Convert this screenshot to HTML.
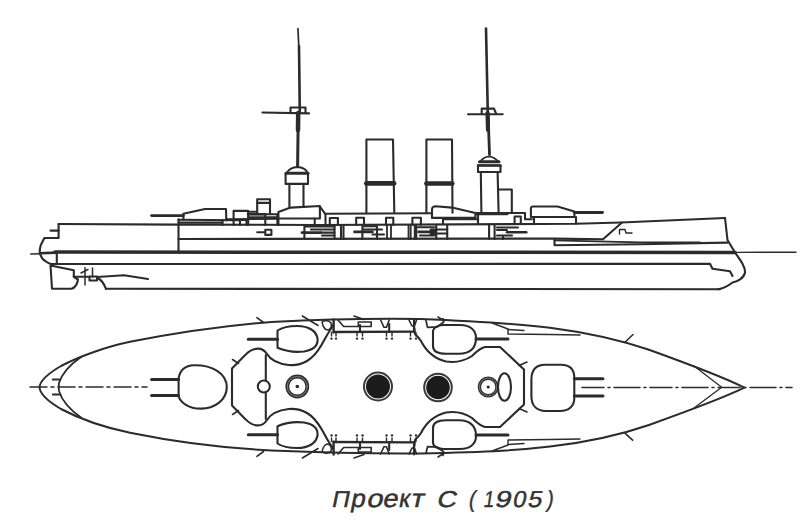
<!DOCTYPE html>
<html><head><meta charset="utf-8">
<style>
html,body{margin:0;padding:0;background:#fff;width:800px;height:524px;overflow:hidden}
svg{position:absolute;left:0;top:0}
.g{position:absolute;top:488.2px;-webkit-text-stroke:0.45px #333;font-family:"Liberation Sans",sans-serif;font-size:23px;line-height:23px;color:#333;white-space:nowrap;transform-origin:0 19px}
</style></head><body>
<svg width="800" height="524" viewBox="0 0 800 524">
<g fill="none" stroke="#2b2b2b" stroke-width="2.1" stroke-linejoin="round" stroke-linecap="round">
<!-- ============ SIDE VIEW ============ -->
<!-- aft mast -->
<path d="M297.9,28.5 L298.8,46" stroke-width="1.7"/>
<path d="M299,46 L299.8,113" stroke-width="2.6"/>
<path d="M262.4,112.5 L309,113.4"/>
<path d="M290.5,113 L290.5,107.5 L305.5,107.5 L305.5,113"/>
<path d="M298.3,113 L297.6,166" stroke-width="3"/>
<path d="M298.2,113 L298,130" stroke-width="4.5"/>
<path d="M287,172.5 Q290,167.5 297.4,167 Q305,167.5 307.5,172.5" stroke-width="1.8"/>
<path d="M286,173.3 L308,173.3" stroke-width="3"/>
<path d="M285.6,173.5 L285.6,183.9 L308,183.9 L308,173.5"/>
<path d="M289.4,184 L289.4,208 M303.5,184 L303.5,207"/>
<!-- fore mast -->
<path d="M486,28.5 L487.8,113" stroke-width="2.6"/>
<path d="M468,114.2 L502.7,114.2"/>
<path d="M481.7,113.5 L481.7,108.6 L494,108.6 L496,113.5"/>
<path d="M488,113 L489.5,154.5" stroke-width="2.8"/>
<path d="M487.5,113 L488,130" stroke-width="4.2"/>
<path d="M480,162 Q483,157 489,156.3 Q495,157 498.5,162" stroke-width="1.8"/>
<path d="M479.5,161.8 L499,161.8" stroke-width="3"/>
<path d="M478,165.3 L478,172 L500.5,172 L500.5,165.3 Z"/>
<path d="M478,165.6 L500.5,165.6" stroke-width="2.4"/>
<path d="M480.8,172 L481.4,213 M497.6,172 L498.6,213"/>
<path d="M498.8,189.5 L511.8,189.5 L511.8,213"/>
<!-- funnels -->
<path d="M366.4,212.5 L366.4,139.5 L393,139.5 L394.3,212.5"/>
<path d="M366.4,183.4 L394,183.4" stroke-width="4.8"/>
<path d="M426.4,212.8 L426.4,139.5 L452,139.5 L452.5,212.8"/>
<path d="M426.4,183.5 L452.3,183.5" stroke-width="4.6"/>

<!-- hull main lines -->
<path d="M58.6,224 L179,224.6 L320,225 L576,223.8 L621,222.5 L725,218"/>
<path d="M178.5,219.4 L178.5,251"/>
<path d="M226.3,219.3 L278.4,218.8"/>
<path d="M319.9,206.5 L325,213.7 L432,213.2"/>
<path d="M325.5,213.7 L325.5,225"/>
<path d="M178.5,239 L554.5,238.6 L603,239.3 L622,222.5"/>
<path d="M55,252.1 L735,252.4" stroke-width="3.5"/>
<path d="M30.7,254 L40,253.8 M735,252.4 L796,252.2" stroke-width="1.4"/>
<path d="M40,253.3 L56,252.6" stroke-width="2.6"/>
<path d="M52,264 L710,263.8 L712.5,268.8 L730,271.2 L732.5,276"/>
<path d="M106,288.8 L720,289.2"/>
<path d="M554.5,239 L554.5,245.2 L640,244.3 L727.5,242.6"/>
<path d="M554.5,240.3 L640,242.3 L700,242.4" stroke-width="1.8"/>
<!-- bow stem -->
<path d="M725,218 L727.5,240 L735,252.5 C741,261 745.5,267 745,272.5 C744,278 738,281.5 732.5,282.5 C728,286 724,288.5 718,289.2"/>
<!-- stern -->
<path d="M58.6,224 L58.6,238 L44.4,238 L40.8,245 C40,248 39.6,251 39.8,252.6 C40.5,256 42,259 45.2,261 C47.5,262.8 50,264 52.8,264.8"/>
<path d="M50.5,230.6 L58.6,230.6"/>
<path d="M56.8,254 L56.8,264"/>
<!-- rudder & propeller -->
<path d="M50.5,265.5 L52,288.8 L71.5,288.8 Q77,287 78,279.5 L73.8,276.8 L73.8,270.2 Z"/>
<path d="M73.8,276.8 L89.5,276.8 M97,277 L124,275.3 L148,279"/>
<path d="M89.5,276.5 L89.5,280.5 L97,280.5 L97,276.5 Z"/>
<path d="M97,278.3 C101,279 103,282 106,288.8"/>
<path d="M85,267.8 L85,285 M92.5,268 L92.5,277" stroke-width="1.5"/>
<path d="M81,273 L88,269.5" stroke-width="1.5"/>
<!-- aft turret -->
<path d="M151.6,215.6 L183.4,215.6" stroke-width="2.8"/>
<path d="M183.4,219.6 L183.4,213.8 L205,209 L226,209 L226.3,220.5"/>
<path d="M178.5,219.8 L240,220.3"/>
<path d="M178.7,222.6 L222.6,222.4 M222.6,220 L222.6,225"/>
<!-- aft superstructure -->
<path d="M233.6,225 L233.6,210.9 L248.2,210.9 L248.2,225"/>
<path d="M240,225 L240,220 L246.5,220 L246.5,225"/>
<path d="M248.2,211.7 L257.2,211.7 M248.2,214.3 L265.3,214.3" />
<path d="M248.2,214.3 L265.3,214.3" stroke-width="2.6"/>
<path d="M248.2,217.3 L277.4,217.3" stroke-width="2.2"/>
<path d="M265.3,214.3 L277.4,214.3 L277.4,225 M265.3,214.3 L265.3,225"/>
<path d="M257.2,213.9 L257.2,199.3 L270,199.3 L270,213.9"/>
<path d="M257.2,202.8 L270,202.8" stroke-width="2.2"/>
<path d="M257.2,232.3 L265.3,232.3 M265.3,229.8 L271.4,229.8 L271.4,234.9 L265.3,234.9 Z"/>
<!-- Q turret (aft midship) -->
<path d="M278.4,218.5 L278.4,212 L290.6,207.6 L319.9,206 L319.9,218.5 Z"/>
<path d="M278.4,218.5 L278.4,225 M314.7,218.5 L314.7,225"/>
<!-- small ports -->
<path d="M329.8,225 L329.8,218 L337.9,218 L337.9,225 M356.2,225 L356.2,217.8 L364,217.8 L364,225 M386,225 L386,217.8 L393.3,217.8 L393.3,225 M412.4,225 L412.4,217.8 L420.9,217.8 L420.9,225"/>
<!-- casemates -->
<path d="M301.9,232.6 L320.8,232.6" stroke-width="2.6"/>
<path d="M304.4,238.6 L304.4,226.5 L334.5,226.5 M311,229.5 L334.5,229.5 M322,235.5 L334.5,235.5 M320.8,232.6 L334.5,232.6"/>
<path d="M334.5,225 L334.5,239 M341,225 L341,239 M343.5,226 L343.5,239" stroke-width="2.1"/>
<path d="M354.5,231.9 L372.5,231.9" stroke-width="2.6"/>
<path d="M362.4,239 L362.4,226.2 L377,226.2 M362.4,229.5 L382,229.5 M372.5,234.5 L384,234.5 M377,226.2 L377,239"/>
<path d="M387,225 L387,239 M391,225 L391,239 M408.5,225 L408.5,239 M410.7,226 L410.7,239 M414.7,225 L414.7,239 M416.4,226 L416.4,239" stroke-width="1.8"/>
<path d="M418.6,231.9 L435.5,231.9" stroke-width="2.8"/>
<path d="M418,227.2 L434,227.2 M420,235.5 L434,235.5"/>
<path d="M436.2,225 L436.2,239 M447.2,225 L447.2,239"/>
<path d="M431,230 L436,230 M431,234 L436,234" stroke-width="3"/>
<path d="M436.2,229.5 L447.2,229.5 M436.2,233.5 L447.2,233.5"/>
<path d="M489.1,225 L489.1,239 M494.6,225 L494.6,239"/>
<path d="M507,232.3 L526.3,232.3" stroke-width="2.6"/>
<path d="M497,227.5 L518,227.5 M497,230 L507,230 M497,235.5 L512,235.5 M503,235.5 L503,239"/>
<!-- wing turret (fore) -->
<path d="M432,217.9 L432,209 Q432.5,206.2 435.5,206.2 L452,207.6 L475.4,213 L475.4,217.9 Z"/>
<path d="M443,219.3 L443,224 M478,219.3 L478,224 M443,219.3 L478,219.3"/>
<!-- bridge -->
<path d="M476.8,213.7 L507,213.7" stroke-width="3.2"/>
<path d="M478,213 L525,213 L525,219.3 L531.8,219.3"/>
<path d="M478,213 L478,224"/>
<path d="M514.6,224 L514.6,216.5 L520.8,216.5 L520.8,224"/>
<!-- fore turret -->
<path d="M530.9,217 L530.9,208.5 Q531,206.5 533,206.5 L557.5,206.5 L574.4,211.6 L574.4,217 Z"/>
<path d="M574.4,212.5 L602.5,212.5" stroke-width="2.8"/>
<path d="M534,217 L534,223.6 M576,217 L576,223.6"/>
<!-- forecastle mark -->
<path d="M619.5,234 L619.5,229.5 L625,229.5 L626,233 L632,233" stroke-width="1.4"/>

<!-- ============ TOP VIEW ============ -->
<!-- centerline -->
<path d="M30,387 L147,387" stroke-width="1.5" stroke-dasharray="17,4,3,4"/>
<path d="M582,387.5 L792,387.5" stroke-width="1.5" stroke-dasharray="22,4,2,4,26,4,2,4"/>
<!-- outer hull -->
<path d="M744.5,387.7 C725,378 705,370 649,349.8 C620,340 590,333 550,327.8 C520,324 495,322 420,319 C380,318.4 330,319 271.5,322 C220,326 175,333 130,341.8 C105,347 78,357 61,366 C49,373 40,380 39.5,387.3 C40,395 49,402 61,409 C78,418 105,427.5 130,432.8 C175,442 220,448 271.5,450.5 C330,453 380,453.8 420,453.5 C495,452 520,450 550,446.5 C590,442 620,435 649,425 C705,405 725,397 744.5,387.7 Z" stroke-width="2"/>
<!-- inner stern line -->
<path d="M81,357 C71,364 62,373 59,383 C58.5,386 58.5,388.5 59,391 C62,401 71,410.5 81,417.5" stroke-width="1.8"/>
<path d="M52.7,379.5 L59.5,379.5 M52.7,394.5 L59.5,394.5" stroke-width="1.8"/>
<!-- inner bow V -->
<path d="M694,366 L721.7,387.3 L694,408" stroke-width="1.3"/>
<!-- aft turret -->
<path d="M178.6,378.5 C180,369.5 186,365.5 194,365.3 C212,365 226.8,373 226.8,387 C226.8,400.5 214,408.6 201,408.6 C188,408.6 180,402 178.6,396 Z"/>
<path d="M151.6,379.6 L178.6,379.6 M151.6,395.6 L178.6,395.6" stroke-width="3"/>
<!-- fore turret -->
<path d="M545,364.8 L561,364.8 C570,364.8 574.3,370 574.3,378 L574.3,398 C574.3,406 569,411 560,411 L546,411 C536,411 531.4,405 531.4,396 L531.4,380 C531.4,370 536,364.8 545,364.8 Z"/>
<path d="M574.3,378.8 L603,378.8 M574.3,396.1 L603,396.1" stroke-width="3"/>
<!-- funnels -->
<circle cx="378" cy="386.5" r="14" stroke-width="2" stroke="#3a3a3a"/>
<circle cx="378" cy="386.5" r="12" fill="#1c1c1c" stroke="none"/>
<circle cx="438" cy="387.5" r="13.8" stroke-width="2" stroke="#3a3a3a"/>
<circle cx="438" cy="387.5" r="11.8" fill="#1c1c1c" stroke="none"/>
<!-- mast rings -->
<circle cx="297.3" cy="386.5" r="10" stroke-width="3.8" stroke="#303030"/>
<circle cx="297.3" cy="386.5" r="10" stroke-width="0.8" stroke="#909090"/>
<circle cx="297.3" cy="386.5" r="1.8" fill="#282828" stroke="none"/>
<circle cx="263.8" cy="386.5" r="6"/>
<circle cx="488.2" cy="387" r="8.8" stroke-width="3.4" stroke="#303030"/>
<circle cx="488.2" cy="387" r="8.8" stroke-width="0.7" stroke="#909090"/>
<circle cx="488.2" cy="387" r="1.6" fill="#282828" stroke="none"/>
<ellipse cx="504.5" cy="387" rx="6.5" ry="13.8"/>

<path d="M625,342.3 L633,334.5 M625.2,433.3 L632.6,440.2" stroke-width="1.6"/>
<!-- upper half (mirrored for lower) -->
<g id="half">
<!-- wing turrets -->
<path d="M277.5,330.5 C282,327.5 290,326 297,326 C309,326 316.5,331 317.6,339 C318,346 313,350 304,351.5 C295,352.5 285,351 277.5,347.8 Z"/>
<path d="M248.3,339.2 L277.5,339.2" stroke-width="3"/>
<path d="M433,331 C433.5,327 437,325.5 443,325 L460,325 C470,325 476,330 476,338 C476,348 470,353.5 459,353.8 L446,353.8 C438,353.8 433,351 433,346 Z"/>
<path d="M476,339 L508,339" stroke-width="3"/>
<!-- aft superstructure outline -->
<path d="M232,387 L232,368.4 L245.7,354.6 C250,350 254,348.6 258,348.6 C262,348.6 265,351 267,354 C270,359 276,363.5 288.7,365 C296,365.5 302,364 307,361 C313,357.5 318,351 321.5,345 C325,339 328,333 330.5,329.5 C331.5,327.5 332.5,326 333.4,325"/>
<path d="M265.8,355 L265.8,380.5"/>
<!-- fore superstructure outline -->
<path d="M414.4,328 L415,334 C417,336 419,338 421,341 C425,349 432,358 446,361.5 C456,363 466,360 472,356 C476,352 480,348 485,347 L500,347 L524,369.5 L524,387"/>
<!-- casemate strip -->
<path d="M333.4,332 L414,331.6" stroke-width="2.3"/>
<path d="M333.6,319.5 L333.6,332.3" stroke-width="2.4"/>
<path d="M360,325 L360,332 M389.2,324 L389.2,332 M414,319.5 L414,331.6"/>
<path d="M338,320 L343.7,326.5 L360,326.5 M358.3,326.5 L358.3,322 L371.2,322 L371.2,326.5 L360,326.5 M380.6,320 L384,327.3 L386.5,327.3 L389.2,320 M409,320 L412,326 L414.5,326 L416.5,320" stroke-width="1.6"/>
<path d="M426,320.5 L427.5,327.4 L437.5,326.8 L443.8,322 L443,318.5" stroke-width="1.7"/>
<!-- hull ticks (davits) -->
<path d="M256.9,317.7 L263.5,322.5 M302.4,316 L318,325.5 M354,316 L364,319.5 M438,317 L443.5,320.5" stroke-width="1.6"/>
<path d="M519,365.5 L527,362" stroke-width="1.6"/>
<path d="M238.5,363.5 L232.5,359.5" stroke-width="1.6"/>
<path d="M322,322 C325,320 329,320.5 331,323 C332,326 331,329 328,330 C325,330 323,327 322,322 Z" stroke-width="1.5"/>
<!-- inner deck line near bow -->
<path d="M492,323 L508,329 L508,334 L550,334.5 L580,335" stroke-width="1.4"/>
<path d="M508,329.5 L524,330.5" stroke-width="1.4"/>
<path d="M331.5,332.5 L331.5,336 M336,332.5 L336,336 M357,332.5 L357,336 M362.5,332.5 L362.5,336 M386.5,332.5 L386.5,336 M392,332.5 L392,336 M410.5,332.5 L410.5,336 M416,332.5 L416,336" stroke-width="1.4"/>
<circle cx="331.5" cy="338.6" r="1.2" fill="#2b2b2b" stroke="none"/>
<circle cx="336" cy="338.6" r="1.2" fill="#2b2b2b" stroke="none"/>
<circle cx="357" cy="338.6" r="1.2" fill="#2b2b2b" stroke="none"/>
<circle cx="362.5" cy="338.6" r="1.2" fill="#2b2b2b" stroke="none"/>
<circle cx="386.5" cy="338.6" r="1.2" fill="#2b2b2b" stroke="none"/>
<circle cx="392" cy="338.6" r="1.2" fill="#2b2b2b" stroke="none"/>
<circle cx="410.5" cy="338.6" r="1.2" fill="#2b2b2b" stroke="none"/>
<circle cx="416" cy="338.6" r="1.2" fill="#2b2b2b" stroke="none"/>
</g>
<use href="#half" transform="translate(0,774) scale(1,-1)"/>
</g>
</svg>
<span class="g" style="left:330.7px;transform:scale(1.060,1) skewX(-11deg)">П</span>
<span class="g" style="left:349.6px;transform:scale(1.131,1.1) skewX(-11deg)">р</span>
<span class="g" style="left:365.7px;transform:scale(1.266,1.1) skewX(-11deg)">о</span>
<span class="g" style="left:381.6px;transform:scale(1.185,1.1) skewX(-11deg)">е</span>
<span class="g" style="left:398.2px;transform:scale(1.062,1.1) skewX(-11deg)">к</span>
<span class="g" style="left:410.2px;transform:scale(1.241,1.1) skewX(-11deg)">т</span>
<span class="g" style="left:435.6px;transform:scale(1.174,1) skewX(-11deg)">С</span>
<span class="g" style="left:468.1px;transform:scale(0.875,1) skewX(-11deg)">(</span>
<span class="g" style="left:483.4px;transform:scale(0.800,1) skewX(-11deg)">1</span>
<span class="g" style="left:494.4px;transform:scale(1.249,1) skewX(-11deg)">9</span>
<span class="g" style="left:511.5px;transform:scale(1.030,1) skewX(-11deg)">0</span>
<span class="g" style="left:526.9px;transform:scale(1.104,1) skewX(-11deg)">5</span>
<span class="g" style="left:545.6px;transform:scale(0.850,1) skewX(-11deg)">)</span>
</body></html>
